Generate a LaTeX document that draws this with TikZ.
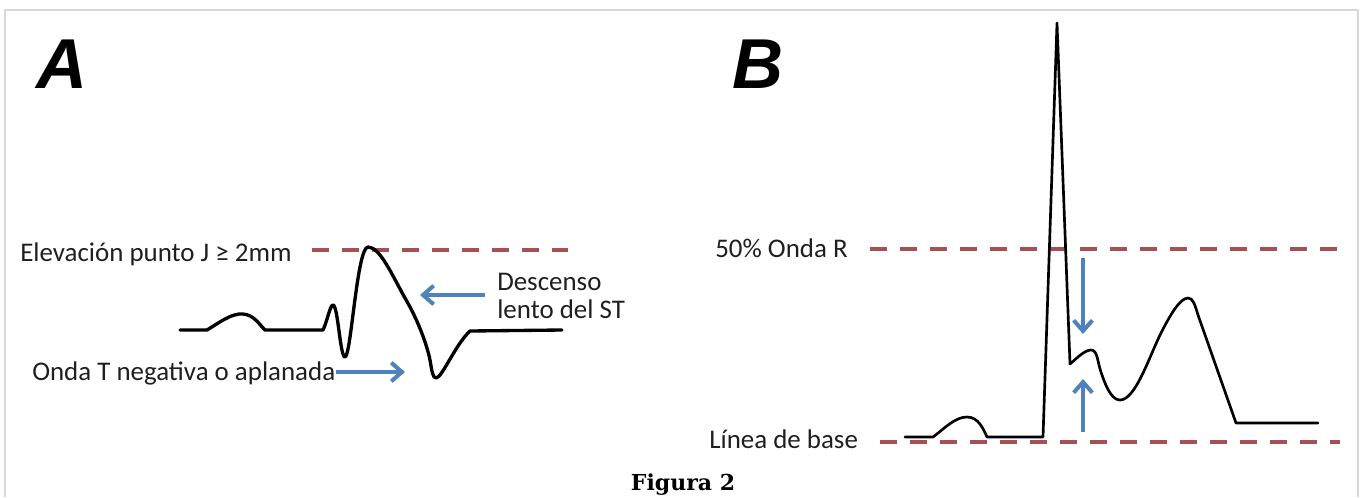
\documentclass[tikz,border=0pt]{standalone}
\usepackage{fontspec}
\setmainfont{Carlito}
\newfontfamily\letterfont{Liberation Sans}
\newfontfamily\captfont{DejaVu Serif}
\usetikzlibrary{arrows.meta}
\definecolor{dashred}{RGB}{165,80,85}
\definecolor{arrblue}{RGB}{79,129,189}
\definecolor{framegray}{RGB}{215,215,215}
\tikzset{
  lbl/.style={inner sep=0pt, font=\fontsize{20.2pt}{24pt}\selectfont, text=black!88},
  big/.style={inner sep=0pt, font=\letterfont\bfseries\itshape\fontsize{53pt}{60pt}\selectfont},
  refline/.style={dashred, line width=3.6pt, dash pattern=on 12.75pt off 9.75pt},
  ecga/.style={line width=2.5pt, line join=round, line cap=round},
  ecgb/.style={line width=2pt, line join=round, line cap=round},
  bluearrow/.style={arrblue, line width=3.2pt, -{Straight Barb[length=8pt,width=14pt,line width=3pt]}},
}
\begin{document}
\begin{tikzpicture}[x=0.75pt,y=-0.75pt]
\useasboundingbox (0,0) rectangle (1363,497);
% frame
\draw[framegray, line width=1.5pt] (5,497) -- (5,10) -- (1358,10) -- (1358,497);
% big letters
\node[big, anchor=base west] (A) at (36,88) {A};
\node[big, anchor=base west] (B) at (732,88) {B};
% caption
\node[inner sep=0pt, font=\captfont\bfseries\fontsize{16.5pt}{18pt}\selectfont, anchor=base] (cap) at (683,490) {Figura 2};

% ---------- Panel A ----------
\coordinate (dA1) at (312,250);
\coordinate (dA2) at (568,250);
\draw[refline] (dA1) -- (dA2);
\draw[ecga] (180,330) -- (207,330)
  .. controls (220,322) and (232,313) .. (243,314)
  .. controls (254,315) and (259,324) .. (265,330)
  -- (323,330)
  .. controls (327,322) and (330,305) .. (333,305)
  .. controls (338,305) and (340,357) .. (345,357)
  .. controls (351,357) and (357,247) .. (368,247)
  .. controls (380,247) and (392,275) .. (405,298)
  .. controls (418,320) and (427,345) .. (430,360)
  .. controls (432,372) and (433,378) .. (436,378)
  .. controls (442,378) and (455,345) .. (470,331)
  -- (562,330);
\node[lbl, anchor=base west] (elev) at (20,261) {Elevación punto J ≥ 2mm};
\node[lbl, anchor=base west] (desc) at (497,290) {Descenso};
\node[lbl, anchor=base west] (desc2) at (497,318) {lento del ST};
\node[lbl, anchor=base west] (onda) at (32,380) {Onda T negativa o aplanada};
\coordinate (aTip1) at (420,295);
\coordinate (aTip2) at (405,372);
\coordinate (aS1) at (485,295);
\draw[bluearrow] (aS1) -- (aTip1);
\draw[bluearrow] (onda.east |- aTip2) -- (aTip2);

% ---------- Panel B ----------
\coordinate (dB1) at (870,249);
\coordinate (dB2) at (1340,249);
\coordinate (dB3) at (880,442);
\coordinate (dB4) at (1340,442);
\draw[refline] (dB1) -- (dB2);
\draw[refline] (dB3) -- (dB4);
\draw[ecgb] (905,437) -- (933,437)
  .. controls (945,428) and (955,417) .. (967,417)
  .. controls (978,417) and (983,428) .. (987,437)
  -- (1043,437) -- (1057,23) -- (1070,364)
  .. controls (1078,357) and (1085,350) .. (1091,350)
  .. controls (1098,350) and (1097,362) .. (1102,375)
  .. controls (1107,390) and (1113,400) .. (1120,400)
  .. controls (1135,400) and (1148,360) .. (1160,335)
  .. controls (1170,315) and (1180,298) .. (1188,298)
  .. controls (1193,298) and (1195,305) .. (1198,315)
  -- (1236,423) -- (1318,423);
\node[lbl, anchor=base west] (r50) at (715,257) {50\% Onda R};
\node[lbl, anchor=base west] (base) at (709,448) {Línea de base};
\coordinate (bS1) at (1083,258);
\coordinate (bT1) at (1083,334);
\coordinate (bS2) at (1083,432);
\coordinate (bT2) at (1083,379);
\draw[bluearrow, line width=2.6pt] (bS1) -- (bT1);
\draw[bluearrow, line width=2.6pt] (bS2) -- (bT2);
\end{tikzpicture}
\end{document}
